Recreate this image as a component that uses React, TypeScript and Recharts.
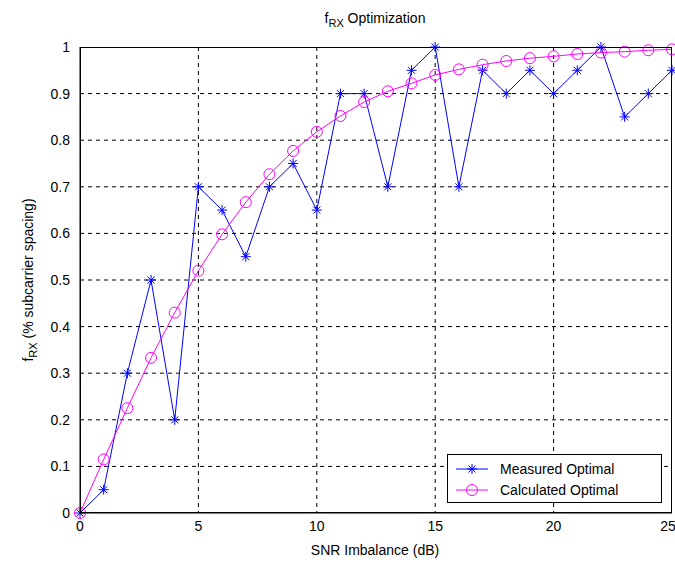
import {
  LineChart,
  Line,
  XAxis,
  YAxis,
  CartesianGrid,
} from "recharts";

const snrImbalance = [
  0, 1, 2, 3, 4, 5, 6, 7, 8, 9, 10, 11, 12, 13, 14, 15, 16, 17, 18, 19, 20,
  21, 22, 23, 24, 25,
];
const measuredOptimal = [
  0, 0.05, 0.3, 0.5, 0.2, 0.7, 0.65, 0.55, 0.7, 0.75, 0.65, 0.9, 0.9, 0.7,
  0.95, 1.0, 0.7, 0.95, 0.9, 0.95, 0.9, 0.95, 1.0, 0.85, 0.9, 0.95,
];
const calculatedOptimal = [
  0, 0.115, 0.225, 0.333, 0.43, 0.52, 0.598, 0.667, 0.727, 0.777, 0.818,
  0.852, 0.882, 0.905, 0.922, 0.94, 0.952, 0.962, 0.97, 0.976, 0.98, 0.985,
  0.988, 0.99, 0.993, 0.995,
];
const xTicks = [0, 5, 10, 15, 20, 25];
const yTicks = [0, 0.1, 0.2, 0.3, 0.4, 0.5, 0.6, 0.7, 0.8, 0.9, 1];

const BLUE = "#0000ff";
const MAGENTA = "#ff00ff";
const FONT = "'Liberation Sans', Arial, sans-serif";

const W = 675;
const H = 563;
// plot box inside the chart svg
const PLOT = { left: 80, top: 47, width: 592, height: 466 };

const data = snrImbalance.map((x, i) => ({
  x,
  measured: measuredOptimal[i],
  calculated: calculatedOptimal[i],
}));

function Star({ cx, cy, r = 5 }: { cx: number; cy: number; r?: number }) {
  const d = r * 0.7;
  return (
    <g stroke={BLUE} strokeWidth={1}>
      <line x1={cx - r} y1={cy} x2={cx + r} y2={cy} />
      <line x1={cx} y1={cy - r} x2={cx} y2={cy + r} />
      <line x1={cx - d} y1={cy - d} x2={cx + d} y2={cy + d} />
      <line x1={cx - d} y1={cy + d} x2={cx + d} y2={cy - d} />
    </g>
  );
}

function StarDot(props: any) {
  const { cx, cy, index } = props;
  if (cx == null || cy == null) return <g key={index} />;
  return <Star key={index} cx={cx} cy={cy} />;
}

function CircleDot(props: any) {
  const { cx, cy, index } = props;
  if (cx == null || cy == null) return <g key={index} />;
  return (
    <circle
      key={index}
      cx={cx}
      cy={cy}
      r={5.5}
      fill="none"
      stroke={MAGENTA}
      strokeWidth={1}
    />
  );
}

function LegendBox() {
  return (
    <div
      style={{
        position: "absolute",
        left: 447,
        top: 454,
        width: 215,
        height: 49,
        border: "1px solid #000",
        background: "#fff",
        fontFamily: FONT,
        fontSize: 14,
        boxSizing: "border-box",
        padding: "3px 0 0 8px",
      }}
    >
      {[
        { label: "Measured Optimal", color: BLUE, star: true },
        { label: "Calculated Optimal", color: MAGENTA, star: false },
      ].map((item) => (
        <div
          key={item.label}
          style={{ display: "flex", alignItems: "center", height: 21 }}
        >
          <svg width={34} height={14} style={{ marginRight: 10 }}>
            <line x1={0} y1={7} x2={32} y2={7} stroke={item.color} />
            {item.star ? (
              <Star cx={16} cy={7} />
            ) : (
              <circle
                cx={16}
                cy={7}
                r={5.5}
                fill="none"
                stroke={MAGENTA}
              />
            )}
          </svg>
          <span>{item.label}</span>
        </div>
      ))}
    </div>
  );
}

export default function App() {
  return (
    <div
      style={{
        position: "fixed",
        left: 0,
        top: 0,
        width: W,
        height: H,
        overflow: "hidden",
        background: "#fff",
      }}
    >
      <LineChart
        width={W}
        height={H}
        data={data}
        margin={{
          top: PLOT.top,
          right: W - PLOT.left - PLOT.width,
          bottom: H - PLOT.top - PLOT.height - 20,
          left: 0,
        }}
      >
        <CartesianGrid
          stroke="#000"
          strokeDasharray="4 4"
          horizontalValues={yTicks.slice(1, -1)}
          verticalValues={xTicks.slice(1, -1)}
        />
        <XAxis
          dataKey="x"
          type="number"
          domain={[0, 25]}
          ticks={xTicks}
          height={20}
          tickLine={false}
          axisLine={{ stroke: "#000" }}
          tick={{ fill: "#000", fontSize: 14, fontFamily: FONT }}
          tickMargin={2}
        />
        <YAxis
          type="number"
          domain={[0, 1]}
          ticks={yTicks}
          width={PLOT.left}
          tickLine={false}
          axisLine={{ stroke: "#000" }}
          tick={{ fill: "#000", fontSize: 14, fontFamily: FONT }}
          tickFormatter={(v: number) => String(Math.round(v * 10) / 10)}
          tickMargin={4}
        />
        <Line
          dataKey="measured"
          stroke={BLUE}
          strokeWidth={1}
          dot={StarDot}
          activeDot={false}
          isAnimationActive={false}
        />
        <Line
          dataKey="calculated"
          stroke={MAGENTA}
          strokeWidth={1}
          dot={CircleDot}
          activeDot={false}
          isAnimationActive={false}
        />
        <text
          x={375}
          y={23}
          textAnchor="middle"
          fontFamily={FONT}
          fontSize={14}
          fill="#000"
        >
          f
          <tspan fontSize={11} dy={4}>
            RX
          </tspan>
          <tspan dy={-4}> Optimization</tspan>
        </text>
        <text
          x={375}
          y={555}
          textAnchor="middle"
          fontFamily={FONT}
          fontSize={14}
          fill="#000"
        >
          SNR Imbalance (dB)
        </text>
        <text
          transform="translate(33, 280) rotate(-90)"
          textAnchor="middle"
          fontFamily={FONT}
          fontSize={14}
          fill="#000"
        >
          f
          <tspan fontSize={11} dy={4}>
            RX
          </tspan>
          <tspan dy={-4}> (% subcarrier spacing)</tspan>
        </text>
      </LineChart>
      {/* frame around the plot area */}
      <div
        style={{
          position: "absolute",
          left: PLOT.left,
          top: PLOT.top,
          width: PLOT.width,
          height: PLOT.height,
          border: "1px solid #000",
          boxSizing: "border-box",
          pointerEvents: "none",
        }}
      />
      <LegendBox />
    </div>
  );
}
